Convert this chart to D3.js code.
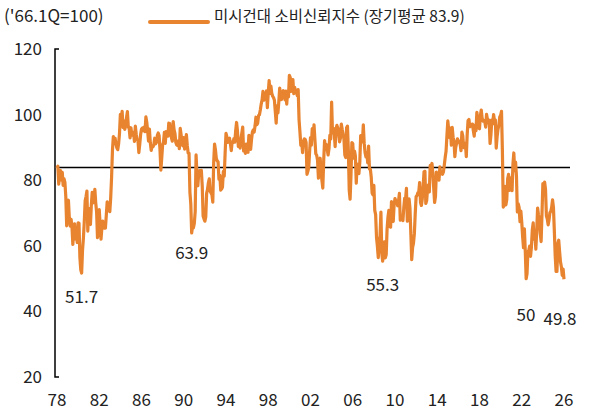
<!DOCTYPE html>
<html>
<head>
<meta charset="utf-8">
<script src="https://cdn.jsdelivr.net/npm/d3@7"></script>
<style>
  body { margin: 0; background: #fff; }
  text { font-family: "Noto Sans CJK KR", "Noto Sans", sans-serif; fill: #222; }
</style>
</head>
<body>
<svg id="chart" width="598" height="419"></svg>
<script>
// monthly index from Jan 1978
const sentiment = [
  83.7,84.3,78.8,81.6,82.9,80.0,82.4,78.4,80.4,79.3,75.0,66.1,
  72.1,73.9,68.4,66.0,68.1,65.8,60.4,64.5,66.7,62.1,63.3,61.0,
  67.0,66.9,56.5,52.7,51.7,58.7,62.3,67.4,73.7,75.0,76.7,64.5,
  71.4,66.9,66.5,72.4,76.3,73.1,74.1,77.2,73.1,70.3,62.5,64.3,
  71.0,66.5,62.0,65.5,67.5,65.7,65.4,65.4,69.3,73.4,72.1,71.9,
  70.4,74.6,80.8,89.1,93.3,92.2,92.8,90.9,89.9,89.3,91.1,94.2,
  100.1,97.4,101.0,96.1,98.1,95.5,96.6,99.1,100.9,96.3,95.7,92.9,
  96.0,93.7,93.7,94.6,91.8,96.5,94.0,92.4,92.1,88.4,90.9,93.9,
  95.6,95.9,95.1,96.2,94.8,99.3,97.7,94.9,91.9,95.6,91.4,89.1,
  90.4,90.2,90.8,92.8,91.1,91.5,93.7,94.4,93.6,89.3,83.1,86.8,
  90.8,91.6,94.6,91.2,94.8,94.7,93.4,97.4,97.3,94.1,93.0,91.9,
  97.9,95.4,94.3,91.5,90.7,90.6,92.0,89.6,95.8,93.9,90.9,90.5,
  93.0,89.5,91.3,93.9,90.6,88.3,88.2,76.4,72.8,63.9,66.0,65.5,
  66.8,70.4,87.7,81.8,78.3,82.1,82.9,82.0,83.0,78.3,69.1,68.2,
  67.5,68.8,76.0,77.2,79.2,80.4,76.6,76.1,75.6,73.3,85.3,91.0,
  89.3,86.6,85.9,85.6,80.3,81.5,77.0,77.3,77.9,82.7,81.2,88.2,
  94.3,93.2,91.5,92.6,92.8,91.2,89.0,91.7,91.5,92.7,91.6,95.1,
  97.6,95.1,90.3,92.5,89.8,92.7,94.4,96.2,88.9,90.2,88.2,91.0,
  89.3,88.5,93.7,92.7,89.4,92.4,94.7,95.3,94.7,96.5,99.2,96.9,
  97.4,99.7,100.0,101.4,103.2,104.5,107.1,104.4,106.0,105.6,107.2,102.1,
  106.6,110.4,106.5,108.7,106.5,105.6,105.2,104.4,100.9,97.4,102.7,100.5,
  103.9,108.1,105.7,104.6,106.8,107.3,106.0,104.5,107.2,103.2,107.2,105.4,
  112.0,111.3,107.1,109.2,110.7,106.4,108.3,107.3,106.8,105.8,107.6,98.4,
  94.7,90.6,91.5,88.4,92.0,92.6,92.4,91.5,81.8,82.7,83.9,88.8,
  93.0,90.7,95.7,93.0,96.9,92.4,88.1,87.6,86.1,80.6,84.2,86.7,
  82.4,79.9,77.6,86.0,92.1,89.7,90.9,89.3,87.7,89.6,93.7,92.6,
  103.8,94.4,95.8,94.2,90.2,95.6,96.7,95.9,94.2,91.7,92.8,97.1,
  95.5,94.1,92.6,87.7,86.9,96.0,96.5,89.1,76.9,74.2,81.6,91.5,
  91.2,86.7,88.9,87.4,79.1,84.9,84.7,82.0,85.4,93.6,92.1,91.7,
  96.9,91.3,88.4,87.1,88.3,85.3,90.4,83.4,83.4,80.9,76.1,75.5,
  78.4,70.8,69.5,62.6,59.8,56.4,61.2,63.0,70.3,57.6,55.3,60.1,
  61.2,56.3,57.3,65.1,68.7,70.8,66.0,65.7,73.5,70.6,67.4,72.5,
  74.4,73.6,73.6,72.2,73.6,76.0,67.8,68.9,68.2,67.7,71.6,74.5,
  74.2,77.5,67.5,69.8,74.3,71.5,63.7,55.8,59.5,60.8,63.7,69.9,
  75.0,75.3,76.2,76.4,79.3,73.2,72.3,74.3,78.3,82.6,82.7,72.9,
  73.8,77.6,78.6,76.4,84.5,84.1,85.1,82.1,77.5,73.2,75.1,82.5,
  81.2,81.6,80.0,84.1,81.9,82.5,81.8,82.5,84.6,86.9,88.8,93.6,
  98.1,95.4,93.0,95.9,90.7,96.1,93.1,91.9,87.2,90.0,91.3,92.6,
  92.0,91.7,91.0,89.0,94.7,93.5,90.0,89.8,91.2,87.2,93.8,98.2,
  98.5,96.3,96.9,97.0,97.1,95.1,93.4,96.8,95.1,100.7,98.5,95.9,
  95.7,99.7,101.4,98.8,98.0,98.2,97.9,96.2,100.1,98.6,97.5,98.3,
  91.2,93.8,98.4,97.2,100.0,98.2,98.4,89.8,93.2,95.5,96.8,99.3,
  99.8,101.0,89.1,71.8,72.3,78.1,72.5,74.1,80.4,81.8,76.9,80.7,
  79.0,76.8,84.9,88.3,82.9,85.5,81.2,70.3,72.8,71.7,67.4,70.6,
  67.2,62.8,59.4,65.2,58.4,50.0,51.5,58.2,58.6,59.9,56.8,59.7,
  64.9,67.0,62.0,63.5,59.0,64.4,71.5,69.5,67.9,63.8,61.3,69.7,
  79.0,76.9,79.4,77.2,69.1,68.2,66.4,67.9,70.1,70.5,71.8,74.0,
  71.7,64.7,57.0,52.2,52.2,60.7,61.7,58.2,55.1,53.6,51.0,52.9,
  49.8
];
const longAvg = 83.9;
const yTicks = [20, 40, 60, 80, 100, 120];
const xTicks = [1978, 1982, 1986, 1990, 1994, 1998, 2002, 2006, 2010, 2014, 2018, 2022, 2026];
const notes = [
  { t: 1980.33, v: 51.7, label: "51.7", dx: 0, dy: 30 },
  { t: 1990.75, v: 63.9, label: "63.9", dx: 0, dy: 26 },
  { t: 2008.83, v: 55.3, label: "55.3", dx: 0, dy: 30 },
  { t: 2022.4, v: 50.0, label: "50", dx: 0, dy: 42 },
  { t: 2026.0, v: 49.8, label: "49.8", dx: -4, dy: 46 }
];

const svg = d3.select("#chart");
const x = d3.scaleLinear().domain([1978, 2026]).range([57, 564]);
const y = d3.scaleLinear().domain([20, 120]).range([377, 49]);

// y axis
const yAxis = svg.append("g").attr("transform", "translate(55,0)")
  .call(d3.axisRight(y).tickValues(yTicks).tickSize(4).tickFormat(""));
yAxis.select(".domain").attr("d", "M4,49H0V377H4").attr("stroke", "#000").attr("stroke-width", 1.5);
yAxis.selectAll(".tick line").remove();
svg.selectAll(".ylab").data(yTicks).join("text")
  .attr("x", 42).attr("y", d => y(d) + 6).attr("text-anchor", "end")
  .attr("font-size", 17).text(d => d);

svg.selectAll(".xlab").data(xTicks).join("text")
  .attr("x", d => x(d)).attr("y", 406).attr("text-anchor", "middle")
  .attr("font-size", 17).text(d => String(d % 100).padStart(2, "0"));

// long-term average
svg.append("line")
  .attr("x1", x(1978)).attr("x2", 570)
  .attr("y1", y(longAvg)).attr("y2", y(longAvg))
  .attr("stroke", "#000").attr("stroke-width", 1.5);

const line = d3.line().x((d, i) => x(1978 + i / 12)).y(d => y(d));
svg.append("path").datum(sentiment)
  .attr("d", line).attr("fill", "none")
  .attr("stroke", "#e8832f").attr("stroke-width", 3.2).attr("stroke-linejoin", "round");

svg.selectAll(".note").data(notes).join("text")
  .attr("x", d => x(d.t) + d.dx).attr("y", d => y(d.v) + d.dy)
  .attr("text-anchor", "middle").attr("font-size", 17).text(d => d.label);

// header / legend
svg.append("text").attr("x", 4).attr("y", 22).attr("font-size", 17).text("('66.1Q=100)");
svg.append("line").attr("x1", 150).attr("x2", 208).attr("y1", 22).attr("y2", 22)
  .attr("stroke", "#e8832f").attr("stroke-width", 4).attr("stroke-linecap", "round");
svg.append("text").attr("x", 214).attr("y", 22).attr("font-size", 15.5)
  .text("미시건대 소비신뢰지수 (장기평균 83.9)");
</script>
</body>
</html>
